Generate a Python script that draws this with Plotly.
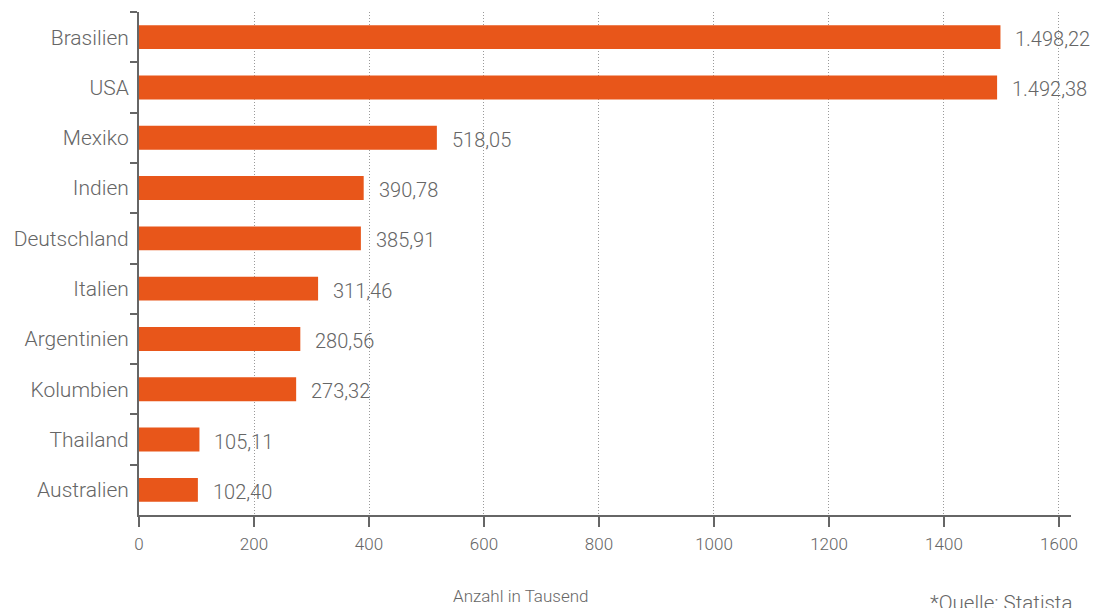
import plotly.graph_objects as go

countries = ["Brasilien", "USA", "Mexiko", "Indien", "Deutschland", "Italien",
             "Argentinien", "Kolumbien", "Thailand", "Australien"]
values = [1498.22, 1492.38, 518.05, 390.78, 385.91, 311.46, 280.56, 273.32, 105.11, 102.40]
value_labels = ["1.498,22", "1.492,38", "518,05", "390,78", "385,91", "311,46",
                "280,56", "273,32", "105,11", "102,40"]
x_ticks = [0, 200, 400, 600, 800, 1000, 1200, 1400, 1600]

BAR = "#E8561A"
TXT = "#666666"
FONT = "Roboto Light, Roboto"

fig = go.Figure()
fig.add_trace(go.Bar(
    x=values, y=countries, orientation="h",
    marker=dict(color=BAR, line=dict(width=0)),
    width=0.475, hoverinfo="skip",
))

for c, v, lab in zip(countries, values, value_labels):
    fig.add_annotation(x=v, y=c, text=lab, showarrow=False, xanchor="left",
                       yanchor="middle", xshift=13, yshift=-2,
                       font=dict(family=FONT, size=20, color=TXT, weight=300))

fig.add_annotation(xref="paper", yref="paper", x=0.41, y=-0.161, text="Anzahl in Tausend",
                   showarrow=False, xanchor="center", yanchor="middle",
                   font=dict(family=FONT, size=17, color=TXT, weight=300))
fig.add_annotation(xref="paper", yref="paper", x=1.003, y=-0.174, text="*Quelle: Statista",
                   showarrow=False, xanchor="right", yanchor="middle",
                   font=dict(family=FONT, size=20.5, color=TXT, weight=300))

fig.update_layout(
    width=1095, height=608,
    margin=dict(l=139, r=24, t=12, b=93),
    paper_bgcolor="white", plot_bgcolor="white",
    showlegend=False,
    bargap=0.5,
    xaxis=dict(
        range=[0, 1620.9], tickvals=x_ticks, ticktext=[str(t) for t in x_ticks],
        showgrid=True, gridcolor="#9a9a9a", griddash="1px,2px", gridwidth=1,
        zeroline=False, showline=True, linecolor="#666666", linewidth=2,
        ticks="outside", ticklen=10, tickwidth=2, tickcolor="#666666",
        ticklabelstandoff=3,
        tickfont=dict(family=FONT, size=17, color=TXT, weight=300),
        fixedrange=True,
    ),
    yaxis=dict(
        type="category", categoryorder="array", categoryarray=countries,
        autorange="reversed", showgrid=False, zeroline=False,
        showline=True, linecolor="#666666", linewidth=2,
        ticks="outside", tickson="boundaries", ticklen=7, tickwidth=2, tickcolor="#666666",
        ticklabelstandoff=4,
        tickfont=dict(family=FONT, size=21, color=TXT, weight=300),
        fixedrange=True,
    ),
)

fig.write_html("out.html")
